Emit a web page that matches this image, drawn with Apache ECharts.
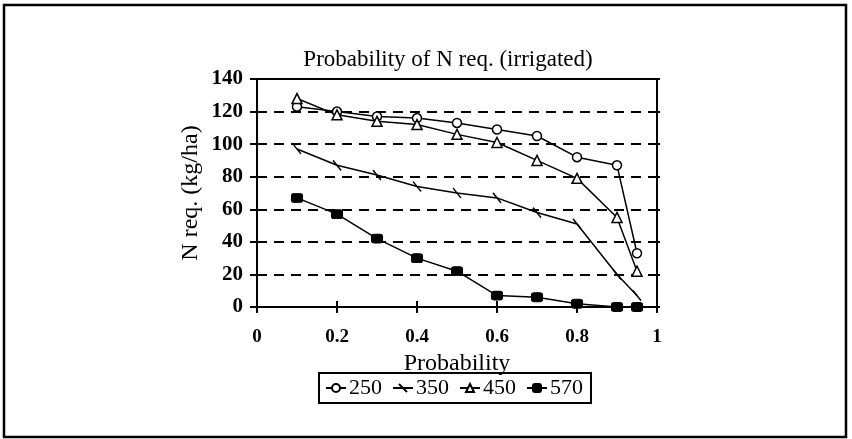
<!DOCTYPE html>
<html><head><meta charset="utf-8">
<script src="https://cdn.jsdelivr.net/npm/echarts@6/dist/echarts.min.js"></script>
<style>html,body{margin:0;padding:0;background:#fff}#c{width:852px;height:439px}</style>
</head><body><div id="c"></div>
<script>
const probs = [0.1, 0.2, 0.3, 0.4, 0.5, 0.6, 0.7, 0.8, 0.9, 0.95];
const s250 = [123, 120, 117, 116, 113, 109, 105, 92, 87, 33];
const s350 = [97, 87, 81, 74, 70, 67, 58, 51, 20, 7];
const s450 = [128, 118, 114, 112, 106, 101, 90, 79, 55, 22];
const s570 = [67, 57, 42, 30, 22, 7, 6, 2, 0, 0];
const seriesNames = ['250', '350', '450', '570'];
const xTicks = ['0', '0.2', '0.4', '0.6', '0.8', '1'];

const pair = arr => probs.map((p, i) => [p, arr[i]]);
const font = '"Liberation Serif", "Times New Roman", serif';
const lineStyle = {color: '#000', width: 1.5};

const chart = echarts.init(document.getElementById('c'), null, {renderer: 'canvas'});
chart.setOption({
  animation: false,
  backgroundColor: '#fff',
  title: {
    text: 'Probability of N req. (irrigated)',
    left: 443, top: 43, textAlign: 'center',
    textStyle: {fontFamily: font, fontSize: 23, fontWeight: 'normal', color: '#000'}
  },
  grid: {left: 257, right: 195, top: 79, bottom: 132, show: true, borderColor: '#000', borderWidth: 2, backgroundColor: 'transparent'},
  legend: {
    left: 319, top: 373,
    data: seriesNames,
    borderColor: '#000', borderWidth: 2, borderRadius: 0,
    padding: [4, 8, 4, 6], itemGap: 10, itemWidth: 20, itemHeight: 10,
    textStyle: {fontFamily: font, fontSize: 22, color: '#000', padding: [0, 0, 0, -2]}
  },
  xAxis: [{
    type: 'value', min: 0, max: 1, interval: 0.2,
    name: 'Probability', nameLocation: 'middle', nameGap: 39,
    nameTextStyle: {fontFamily: font, fontSize: 24, color: '#000'},
    axisLine: {show: true, lineStyle: {color: '#000', width: 2}},
    axisTick: {show: true, length: 6, lineStyle: {color: '#000', width: 2}},
    axisLabel: {fontFamily: font, fontSize: 19, fontWeight: 'bold', color: '#000', margin: 21,
      formatter: v => xTicks[Math.round(v / 0.2)]},
    splitLine: {show: false}
  }, {
    type: 'value', min: 0, max: 1, interval: 0.2, position: 'bottom', offset: 0,
    axisLine: {show: false}, axisLabel: {show: false}, splitLine: {show: false},
    axisTick: {show: true, inside: true, length: 6, lineStyle: {color: '#000', width: 2}}
  }],
  yAxis: [{
    type: 'value', min: 0, max: 140, interval: 20,
    name: 'N req. (kg/ha)', nameLocation: 'middle', nameGap: 54,
    nameTextStyle: {fontFamily: font, fontSize: 24, color: '#000'},
    axisLine: {show: true, lineStyle: {color: '#000', width: 2}},
    axisTick: {show: true, length: 7, lineStyle: {color: '#000', width: 2}},
    axisLabel: {fontFamily: font, fontSize: 21, fontWeight: 'bold', color: '#000', margin: 14},
    splitLine: {show: true, lineStyle: {color: '#000', width: 2, type: [10, 7]}}
  }, {
    type: 'value', min: 0, max: 140, interval: 20, position: 'left', offset: 0,
    axisLine: {show: false}, axisLabel: {show: false}, splitLine: {show: false},
    axisTick: {show: true, inside: true, length: 7, lineStyle: {color: '#000', width: 2}}
  }, {
    type: 'value', min: 0, max: 140, interval: 20, position: 'right', offset: 0,
    axisLine: {show: false}, axisLabel: {show: false}, splitLine: {show: false},
    axisTick: {show: true, length: 3, lineStyle: {color: '#000', width: 2}}
  }],
  series: [
    {name: '250', type: 'line', data: pair(s250), symbol: 'circle', symbolSize: 9,
     lineStyle, itemStyle: {color: '#fff', borderColor: '#000', borderWidth: 1.5}},
    {name: '350', type: 'line', data: pair(s350), symbol: 'path://M3,0L7,10', symbolSize: [8, 10],
     lineStyle, itemStyle: {color: '#000', borderColor: '#000', borderWidth: 1.5}},
    {name: '450', type: 'line', data: pair(s450), symbol: 'triangle', symbolSize: 10,
     lineStyle, itemStyle: {color: '#fff', borderColor: '#000', borderWidth: 1.5}},
    {name: '570', type: 'line', data: pair(s570), symbol: 'roundRect', symbolSize: [11, 9],
     lineStyle, itemStyle: {color: '#000', borderColor: '#000', borderWidth: 1}}
  ],
  graphic: [{
    type: 'rect', shape: {x: 4, y: 5, width: 842, height: 432},
    style: {fill: 'none', stroke: '#000', lineWidth: 2.5}, z: 100
  }]
});
</script></body></html>
